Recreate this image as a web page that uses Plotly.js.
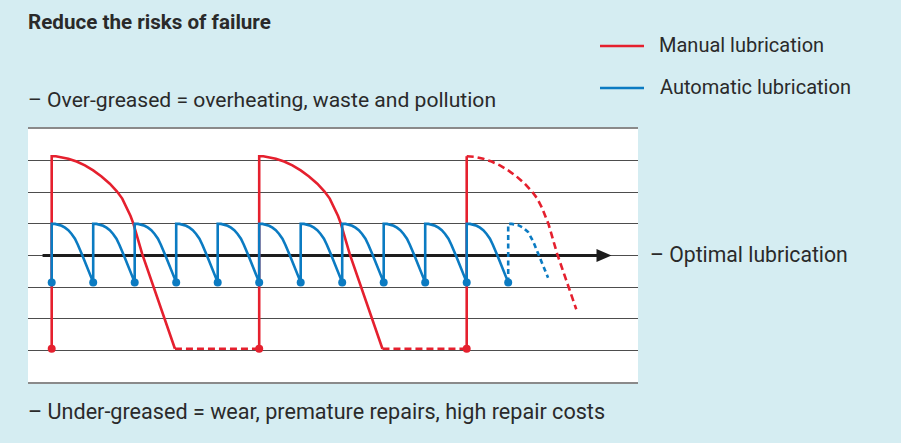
<!DOCTYPE html>
<html>
<head>
<meta charset="utf-8">
<script src="https://cdn.plot.ly/plotly-3.0.1.min.js"></script>
<style>
  html, body { margin: 0; padding: 0; background: #d5edf2; }
  #chart { width: 901px; height: 443px; }
</style>
</head>
<body>
<div id="chart"></div>
<script>
// Grease level over time: manual vs automatic lubrication.
// Time unit = one automatic relubrication interval.

// Manual lubrication: relubrication times and grease profile after each fill
const manualFillTimes = [0, 5];          // full cycles drawn solid
const manualLastFill = 10;                // last fill, decay drawn dashed
const manualLow = 1.05;                   // under-greased level (dots)
const manualProfileDx = [0, 0, 0.1, 0.2, 0.4, 0.6, 0.8, 1.0, 1.2, 1.4, 1.57, 1.7, 1.81, 1.9, 1.97, 2.18, 2.97];
const manualProfileY  = [1.05, 7.14, 7.14, 7.12, 7.06, 6.97, 6.85, 6.69, 6.50, 6.27, 6.03, 5.80, 5.52, 5.25, 5.0, 4.05, 1.05];
const manualTailDx = [0, 0.1, 0.2, 0.4, 0.6, 0.8, 1.0, 1.2, 1.4, 1.57, 1.7, 1.81, 1.9, 1.97, 2.18, 2.64];
const manualTailY  = [7.14, 7.14, 7.12, 7.06, 6.97, 6.85, 6.69, 6.50, 6.27, 6.03, 5.80, 5.52, 5.25, 5.0, 4.05, 2.3];

// Automatic lubrication: relubrication times and grease profile per interval
const autoFillTimes = [0, 1, 2, 3, 4, 5, 6, 7, 8, 9, 10];
const autoLastFill = 11;
const autoLow = 3.15;
const autoProfileDx = [0, 0, 0.08, 0.16, 0.24, 0.32, 0.40, 0.48, 0.56, 0.63, 0.69, 0.74, 1.0];
const autoProfileY  = [3.15, 5.0, 5.0, 4.98, 4.94, 4.88, 4.80, 4.68, 4.53, 4.34, 4.17, 4.0, 3.15];
const autoTailDx = [0, 0, 0.08, 0.16, 0.24, 0.36, 0.48, 0.6, 0.72, 0.84, 0.96];
const autoTailY  = [3.15, 5.0, 5.0, 4.98, 4.96, 4.88, 4.74, 4.45, 4.06, 3.7, 3.3];

// Optimal level / time axis
const optimalLevel = 4;
const timeAxisStart = -0.22;
const timeAxisEnd = 13.49;

// Texts
const titleText = 'Reduce the risks of failure';
const overText = '\u2013 Over-greased = overheating, waste and pollution';
const underText = '\u2013 Under-greased = wear, premature repairs, high repair costs';
const optimalText = '\u2013 Optimal lubrication';
const manualName = 'Manual lubrication';
const autoName = 'Automatic lubrication';

const RED = '#e5202e';
const BLUE = '#0b7bc2';

// ---- build traces ----
// Lay a profile after each fill time; `split` breaks the line between cycles.
function chain(starts, dx, y, split) {
  const xs = [], ys = [];
  starts.forEach((s, k) => {
    if (split && k > 0) { xs.push(null); ys.push(null); }
    dx.forEach((d, i) => { xs.push(s + d); ys.push(y[i]); });
  });
  return { xs, ys };
}

// solid manual cycles + solid refill of the last cycle
const mSolid = chain(manualFillTimes, manualProfileDx, manualProfileY, true);
const manualSolidX = mSolid.xs.concat([null, manualLastFill, manualLastFill]);
const manualSolidY = mSolid.ys.concat([null, manualLow, manualTailY[0]]);

// dashed: waiting time at low level, and the projected decay after the last fill
let mDashX = [], mDashY = [];
manualFillTimes.forEach((s, i) => {
  const end = s + manualProfileDx[manualProfileDx.length - 1];
  const next = i + 1 < manualFillTimes.length ? manualFillTimes[i + 1] : manualLastFill;
  if (mDashX.length) { mDashX.push(null); mDashY.push(null); }
  mDashX.push(end, next); mDashY.push(manualLow, manualLow);
});
mDashX.push(null); mDashY.push(null);
manualTailDx.forEach((d, i) => { mDashX.push(manualLastFill + d); mDashY.push(manualTailY[i]); });

const manualDots = manualFillTimes.concat([manualLastFill]);

const aSolid = chain(autoFillTimes, autoProfileDx, autoProfileY, false);
const aTail = chain([autoLastFill], autoTailDx, autoTailY, false);
const autoDots = autoFillTimes.concat([autoLastFill]);

const traces = [
  { x: mDashX, y: mDashY, mode: 'lines', name: manualName,
    line: { color: RED, width: 2.6, dash: '7px,4px' }, hoverinfo: 'skip' },
  { x: manualSolidX, y: manualSolidY, mode: 'lines', name: manualName,
    line: { color: RED, width: 2.6 }, hoverinfo: 'skip' },
  { x: manualDots, y: manualDots.map(() => manualLow), mode: 'markers',
    marker: { color: RED, size: 8 }, hoverinfo: 'skip' },
  { x: aSolid.xs, y: aSolid.ys, mode: 'lines', name: autoName,
    line: { color: BLUE, width: 2.6 }, hoverinfo: 'skip' },
  { x: aTail.xs, y: aTail.ys, mode: 'lines', name: autoName,
    line: { color: BLUE, width: 2.6, dash: '5px,3.5px' }, hoverinfo: 'skip' },
  { x: autoDots, y: autoDots.map(() => autoLow), mode: 'markers',
    marker: { color: BLUE, size: 8 }, hoverinfo: 'skip' }
];

// ---- layout ----
const W = 901, H = 443;
const M = { l: 28, r: 263, t: 129, b: 61 };
const PW = W - M.l - M.r, PH = H - M.t - M.b;
const px = v => (v - M.l) / PW;          // pixel x -> paper
const py = v => (H - M.b - v) / PH;      // pixel y -> paper

const font = 'Roboto, "Noto Sans", sans-serif';
const textColor = '#2a2a2a';

function label(text, x, y, size, bold) {
  return {
    text: bold ? '<b>' + text + '</b>' : text,
    xref: 'paper', yref: 'paper', x: px(x), y: py(y),
    xanchor: 'left', yanchor: 'middle', showarrow: false,
    font: { family: font, size: size, color: textColor }
  };
}

const layout = {
  width: W, height: H,
  margin: M,
  paper_bgcolor: '#d5edf2',
  plot_bgcolor: '#ffffff',
  showlegend: false,
  xaxis: {
    range: [-0.571, -0.571 + PW / 41.5],
    showgrid: false, zeroline: false, showticklabels: false, ticks: '',
    showline: true, mirror: true, linecolor: '#8a8a8a', linewidth: 2,
    fixedrange: true
  },
  yaxis: {
    range: [0, 8], tick0: 0, dtick: 1,
    showgrid: true, gridcolor: '#4d4d4d', gridwidth: 1.2,
    zeroline: false, showticklabels: false, ticks: '', showline: false,
    fixedrange: true
  },
  shapes: [
    // optimal level axis
    { type: 'line', layer: 'between', xref: 'x', yref: 'y',
      x0: timeAxisStart, x1: timeAxisEnd - 0.3, y0: optimalLevel, y1: optimalLevel,
      line: { color: '#1c1c1c', width: 3.2 } },
    { type: 'path', layer: 'between', xref: 'x', yref: 'y',
      xsizemode: 'pixel', ysizemode: 'pixel',
      xanchor: timeAxisEnd, yanchor: optimalLevel,
      path: 'M-15,-6.5 L0,0 L-15,6.5 Z',
      fillcolor: '#1c1c1c', line: { width: 0 } },
    // legend keys
    { type: 'line', xref: 'paper', yref: 'paper',
      x0: px(600), x1: px(644), y0: py(46), y1: py(46),
      line: { color: RED, width: 2.6 } },
    { type: 'line', xref: 'paper', yref: 'paper',
      x0: px(600), x1: px(644), y0: py(88), y1: py(88),
      line: { color: BLUE, width: 2.6 } }
  ],
  annotations: [
    label(titleText, 26, 22, 20.6, true),
    label(overText, 26, 99, 21.1, false),
    label(underText, 26, 411, 21.6, false),
    label(optimalText, 648, 254, 21.2, false),
    label(manualName, 657, 45, 20, false),
    label(autoName, 658, 87, 20, false)
  ]
};

Plotly.newPlot('chart', traces, layout, { displayModeBar: false, staticPlot: true });
</script>
</body>
</html>
